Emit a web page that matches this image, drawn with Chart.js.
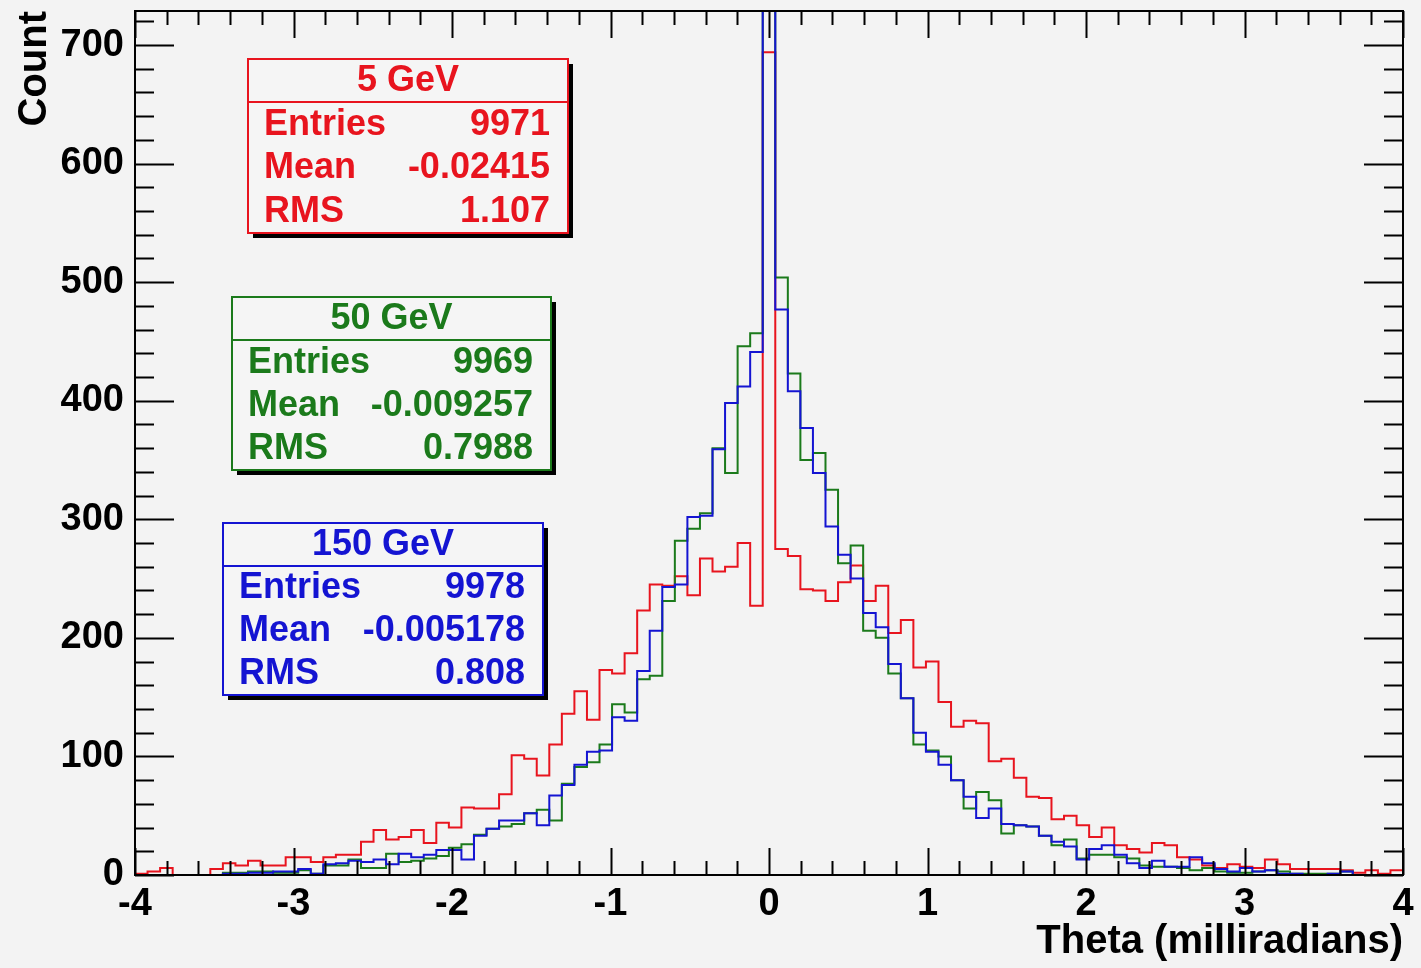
<!DOCTYPE html>
<html>
<head>
<meta charset="utf-8">
<title>Theta (milliradians)</title>
<script src="https://cdn.jsdelivr.net/npm/chart.js@4.4.0/dist/chart.umd.min.js"></script>
<style>
  html, body { margin: 0; padding: 0; background: #f3f3f3; }
  #chartBox { width: 1421px; height: 968px; }
</style>
</head>
<body>
<div id="chartBox"><canvas id="thetaChart" width="1421" height="968"></canvas></div>
<script>
// Histogram binning: 101 bins between -4 and 4 mrad
const xMin = -4;
const xMax = 4;
const nBins = 101;
const yMax = 728.7;

// Tick labels
const xTicks = [-4, -3, -2, -1, 0, 1, 2, 3, 4];
const yTicks = [0, 100, 200, 300, 400, 500, 600, 700];

// Bin contents
const counts5GeV = [
  1, 3, 6, 0, 0, 0, 5, 10, 8, 12,
  8, 8, 15, 15, 11, 15, 17, 17, 28, 38,
  30, 32, 38, 27, 44, 40, 57, 56, 56, 68,
  101, 98, 84, 110, 136, 155, 131, 173, 170, 187,
  223, 245, 244, 252, 236, 267, 256, 260, 280, 227,
  694,
  275, 269, 241, 240, 231, 247, 261, 231, 244, 204,
  215, 175, 180, 146, 125, 130, 128, 96, 98, 82,
  66, 65, 47, 50, 42, 32, 40, 25, 22, 19,
  27, 25, 15, 13, 8, 6, 9, 7, 6, 13,
  9, 5, 5, 5, 5, 4, 2, 4, 1, 4
];
const counts50GeV = [
  0, 0, 0, 0, 0, 0, 0, 2, 2, 3,
  3, 2, 2, 4, 1, 8, 8, 13, 6, 6,
  18, 11, 12, 14, 16, 23, 26, 34, 39, 41,
  43, 52, 55, 46, 77, 91, 95, 110, 144, 137,
  165, 168, 231, 282, 292, 305, 360, 339, 446, 457,
  1600,
  504, 423, 350, 356, 325, 263, 278, 206, 200, 170,
  149, 110, 105, 100, 80, 56, 70, 63, 35, 42,
  41, 33, 25, 30, 14, 17, 17, 15, 14, 8,
  7, 7, 6, 4, 6, 3, 2, 2, 3, 4,
  3, 1, 1, 1, 1, 3, 0, 0, 0, 0
];
const counts150GeV = [
  0, 0, 0, 0, 0, 0, 0, 1, 1, 2,
  2, 3, 3, 5, 1, 9, 10, 12, 11, 13,
  9, 18, 15, 17, 21, 21, 13, 33, 39, 46,
  46, 52, 42, 67, 76, 93, 104, 105, 133, 130,
  172, 206, 243, 245, 302, 303, 359, 398, 412, 441,
  1620,
  477, 408, 377, 339, 294, 270, 250, 221, 209, 178,
  149, 120, 104, 93, 80, 66, 48, 56, 43, 42,
  41, 33, 28, 24, 13, 22, 25, 17, 10, 6,
  12, 7, 7, 15, 10, 5, 3, 6, 3, 4,
  1, 1, 0, 0, 1, 3, 0, 0, 0, 0
];

// Stats box contents
const statTitles = ['5 GeV', '50 GeV', '150 GeV'];
const statEntries = ['9971', '9969', '9978'];
const statMeans = ['-0.02415', '-0.009257', '-0.005178'];
const statRms = ['1.107', '0.7988', '0.808'];

const RED = '#e8141e';
const GREEN = '#1b7a1b';
const BLUE = '#1414d2';
const boldFont = '"Liberation Sans", Arial, Helvetica, sans-serif';

// turn bin contents into the outline of a step histogram
function stepPoints(counts) {
  const w = (xMax - xMin) / nBins;
  const pts = [];
  counts.forEach((c, i) => {
    pts.push({ x: xMin + i * w, y: c });
    pts.push({ x: xMin + (i + 1) * w, y: c });
  });
  return pts;
}

// stat box placement on the canvas
const boxLayout = [
  { l: 248, t: 59, r: 568, b: 233, sep: 102, color: RED },
  { l: 232, t: 297, r: 551, b: 470, sep: 340, color: GREEN },
  { l: 223, t: 523, r: 543, b: 695, sep: 566, color: BLUE }
];

const rootFrame = {
  id: 'rootFrame',
  beforeDraw(chart) {
    const ctx = chart.ctx;
    ctx.save();
    ctx.fillStyle = '#f3f3f3';
    ctx.fillRect(0, 0, chart.width, chart.height);
    ctx.restore();
  },
  afterDatasetsDraw(chart) {
    const { ctx, chartArea: a, scales: { x, y } } = chart;
    ctx.save();
    ctx.strokeStyle = '#000';
    ctx.lineWidth = 2;
    ctx.beginPath();
    // x ticks every 0.2, on bottom and top
    for (let i = 0; i <= 40; i++) {
      const v = xMin + i * 0.2;
      const px = Math.round(x.getPixelForValue(v)) + 0.5;
      const len = (i % 5 === 0) ? 27 : 14;
      ctx.moveTo(px, a.bottom);
      ctx.lineTo(px, a.bottom - len);
      ctx.moveTo(px, a.top);
      ctx.lineTo(px, a.top + len);
    }
    // y ticks every 20, on left and right
    for (let i = 0; i * 20 <= yMax; i++) {
      const py = Math.round(y.getPixelForValue(i * 20)) + 0.5;
      const len = (i % 5 === 0) ? 39 : 19;
      ctx.moveTo(a.left, py);
      ctx.lineTo(a.left + len, py);
      ctx.moveTo(a.right, py);
      ctx.lineTo(a.right - len, py);
    }
    ctx.stroke();
    ctx.strokeRect(a.left, a.top, a.right - a.left, a.bottom - a.top);
    ctx.restore();
  },
  afterDraw(chart) {
    const ctx = chart.ctx;
    ctx.save();
    boxLayout.forEach((bx, i) => {
      const w = bx.r - bx.l;
      const h = bx.b - bx.t;
      ctx.fillStyle = '#000';
      ctx.fillRect(bx.l + 5, bx.t + 5, w, h);
      ctx.fillStyle = '#f5f5f5';
      ctx.fillRect(bx.l, bx.t, w, h);
      ctx.strokeStyle = bx.color;
      ctx.lineWidth = 2;
      ctx.strokeRect(bx.l, bx.t, w, h);
      ctx.beginPath();
      ctx.moveTo(bx.l, bx.sep);
      ctx.lineTo(bx.r, bx.sep);
      ctx.stroke();

      ctx.fillStyle = bx.color;
      ctx.font = 'bold 36px ' + boldFont;
      ctx.textBaseline = 'middle';
      ctx.textAlign = 'center';
      ctx.fillText(statTitles[i], (bx.l + bx.r) / 2, (bx.t + bx.sep) / 2 + 1);

      const rowH = (bx.b - bx.sep) / 3;
      const rows = [['Entries', statEntries[i]], ['Mean', statMeans[i]], ['RMS', statRms[i]]];
      rows.forEach((row, j) => {
        const cy = bx.sep + rowH * (j + 0.5) + 1;
        ctx.textAlign = 'left';
        ctx.fillText(row[0], bx.l + 16, cy);
        ctx.textAlign = 'right';
        ctx.fillText(row[1], bx.r - 18, cy);
      });
    });
    ctx.restore();
  }
};

const ctx = document.getElementById('thetaChart');
new Chart(ctx, {
  type: 'line',
  data: {
    datasets: [
      { label: '5 GeV', data: stepPoints(counts5GeV), borderColor: RED, order: 3 },
      { label: '50 GeV', data: stepPoints(counts50GeV), borderColor: GREEN, order: 2 },
      { label: '150 GeV', data: stepPoints(counts150GeV), borderColor: BLUE, order: 1 }
    ]
  },
  options: {
    responsive: false,
    animation: false,
    parsing: false,
    normalized: true,
    layout: { padding: { left: 0, right: 18, top: 11, bottom: 0 } },
    elements: {
      line: { borderWidth: 2, tension: 0, fill: false, borderCapStyle: 'butt', borderJoinStyle: 'miter' },
      point: { radius: 0, hoverRadius: 0 }
    },
    plugins: {
      legend: { display: false },
      tooltip: { enabled: false }
    },
    scales: {
      x: {
        type: 'linear',
        min: xMin,
        max: xMax,
        afterBuildTicks(scale) { scale.ticks = xTicks.map(v => ({ value: v })); },
        afterFit(scale) {
          scale.height = 93;
          scale.paddingLeft = 0;
          scale.paddingRight = 0;
        },
        ticks: {
          color: '#000',
          font: { family: boldFont, size: 38, weight: 'bold' },
          padding: 7,
          maxRotation: 0,
          autoSkip: false,
          includeBounds: false
        },
        grid: { display: false, drawTicks: false, tickLength: 0 },
        border: { display: false },
        title: {
          display: true,
          text: 'Theta (milliradians)',
          align: 'end',
          color: '#000',
          font: { family: boldFont, size: 40, weight: 'bold' },
          padding: { top: 0, bottom: 2 }
        }
      },
      y: {
        type: 'linear',
        min: 0,
        max: yMax,
        afterBuildTicks(scale) { scale.ticks = yTicks.map(v => ({ value: v })); },
        afterFit(scale) {
          scale.width = 135;
          scale.paddingTop = 0;
          scale.paddingBottom = 0;
        },
        ticks: {
          color: '#000',
          font: { family: boldFont, size: 38, weight: 'bold' },
          padding: 11,
          autoSkip: false,
          includeBounds: false
        },
        grid: { display: false, drawTicks: false, tickLength: 0 },
        border: { display: false },
        title: {
          display: true,
          text: 'Count',
          align: 'end',
          color: '#000',
          font: { family: boldFont, size: 40, weight: 'bold' },
          padding: { top: 11, bottom: 0 }
        }
      }
    }
  },
  plugins: [rootFrame]
});
</script>
</body>
</html>
